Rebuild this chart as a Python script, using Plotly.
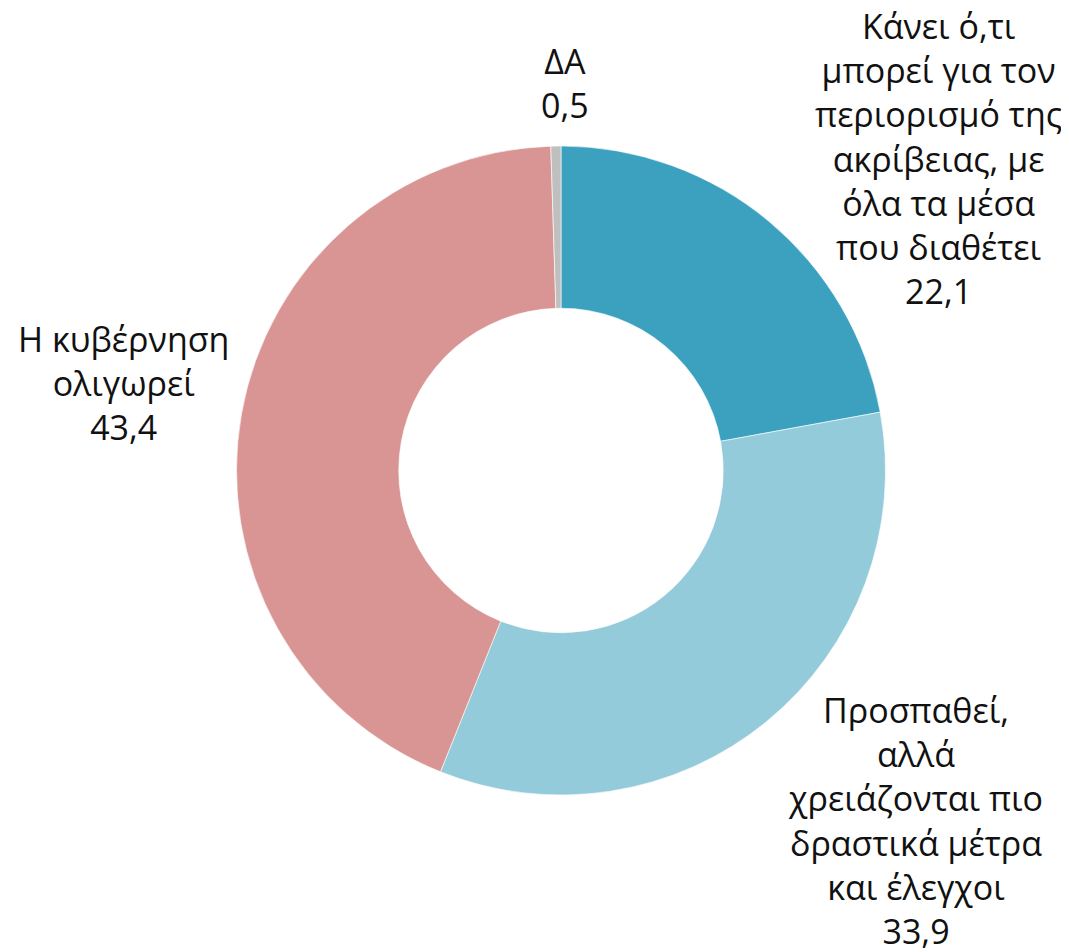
import plotly.graph_objects as go

categories = [
    "Κάνει ό,τι<br>μπορεί για τον<br>περιορισμό της<br>ακρίβειας, με<br>όλα τα μέσα<br>που διαθέτει",
    "Προσπαθεί,<br>αλλά<br>χρειάζονται πιο<br>δραστικά μέτρα<br>και έλεγχοι",
    "Η κυβέρνηση<br>ολιγωρεί",
    "ΔΑ",
]
values = [22.1, 33.9, 43.4, 0.5]
value_labels = ["22,1", "33,9", "43,4", "0,5"]
colors = ["#3BA1BE", "#94CBDB", "#D99594", "#BFBFBF"]

W, H = 1069, 952
OFF = 8  # page body margin


def px2paper(x, y):
    return (x - OFF) / W, 1 - (y - OFF) / H


# label centres in screen pixels (layout only)
label_px = [(938, 158), (915, 820), (123, 383), (565, 83)]

cx, cy, R = 561, 470.5, 324.5
x0, _ = px2paper(cx - R, 0)
x1, _ = px2paper(cx + R, 0)
_, y1 = px2paper(0, cy - R)
_, y0 = px2paper(0, cy + R)

fig = go.Figure(go.Pie(
    labels=categories,
    values=values,
    hole=0.5,
    sort=False,
    direction="clockwise",
    rotation=0,
    marker=dict(colors=colors, line=dict(color="white", width=0.6)),
    textinfo="none",
    hoverinfo="label+value",
    showlegend=False,
    domain=dict(x=[x0, x1], y=[y0, y1]),
))

for cat, vl, (lx, ly) in zip(categories, value_labels, label_px):
    ax, ay = px2paper(lx, ly)
    fig.add_annotation(
        x=ax, y=ay, xref="paper", yref="paper",
        text=f"{cat}<br>{vl}", showarrow=False,
        xanchor="center", yanchor="middle", align="center",
        font=dict(family="Open Sans", size=34, color="#111111"),
    )

fig.update_layout(
    width=W, height=H,
    margin=dict(l=0, r=0, t=0, b=0),
    paper_bgcolor="white", plot_bgcolor="white",
)

fig.write_html("out.html")
